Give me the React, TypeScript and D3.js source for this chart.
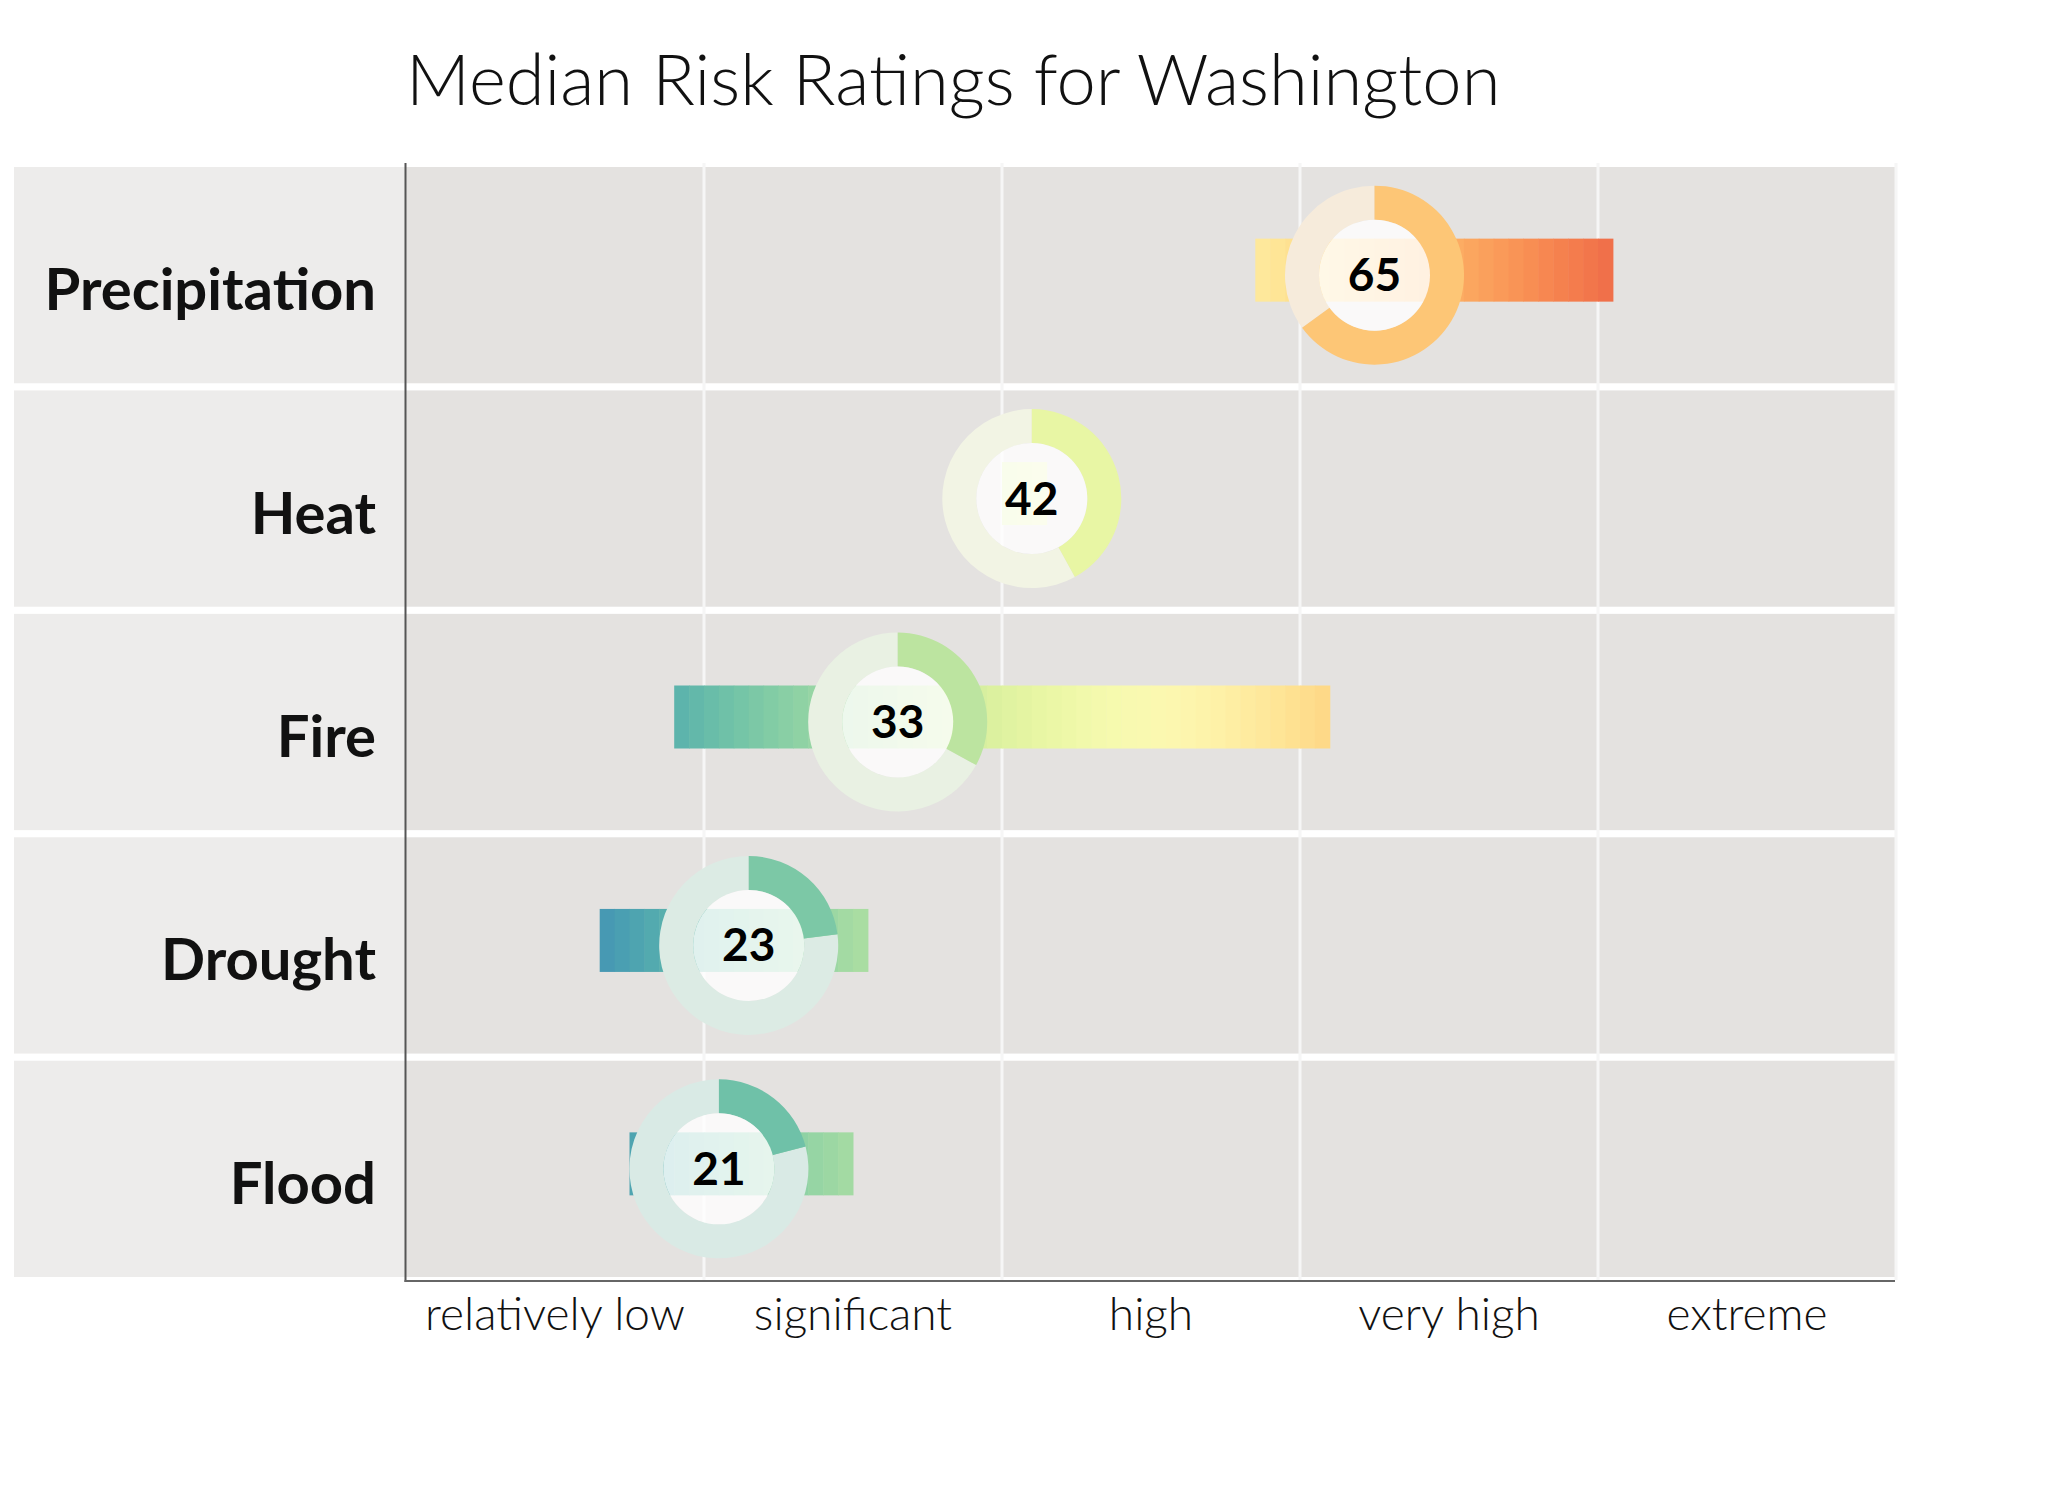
import React from 'react';
import * as d3 from 'd3';

// Median risk rating per hazard, plus the low/high range of ratings
const hazards = ['Precipitation', 'Heat', 'Fire', 'Drought', 'Flood'];
const medians = [65, 42, 33, 23, 21];
const rangeLow = [57, 40, 18, 13, 15];
const rangeHigh = [81, 43, 62, 31, 30];

const ratingLabels = ['relatively low', 'significant', 'high', 'very high', 'extreme'];
const ratingBreaks = [0, 20, 40, 60, 80, 100];

const W = 2047;
const H = 1489;
const FONT = 'Lato, "Noto Sans", sans-serif';

const riskColor = (v: number) => d3.interpolateSpectral(1 - v / 100);
const paleColor = (v: number) => d3.interpolateRgb('#f4f4f4', riskColor(v))(0.2);

const App: React.FC = () => {
  const x = d3.scaleLinear().domain([0, 100]).range([406, 1896]);
  const y = d3.scaleBand<string>().domain(hazards).range([167, 1277]).paddingInner(0.032);

  const rOuter = 89.5;
  const rInner = 55.5;
  const arc = d3.arc<any>().innerRadius(rInner).outerRadius(rOuter);

  return (
    <svg
      width={W}
      height={H}
      style={{position: 'absolute', left: 0, top: 0, background: '#fff'}}
      fontFamily={FONT}
    >
      <text x={406} y={105} fontSize={70.5} fontWeight={300} fill="#111">
        Median Risk Ratings for Washington
      </text>

      {/* row backgrounds */}
      {hazards.map((h) => (
        <g key={h}>
          <rect x={14} y={y(h)} width={x(0) - 14} height={y.bandwidth()} fill="#edeceb" />
          <rect x={x(0)} y={y(h)} width={x(100) - x(0)} height={y.bandwidth()} fill="#e4e2e0" />
        </g>
      ))}

      {/* grid lines at rating breaks */}
      {ratingBreaks.slice(1).map((b) => (
        <line key={b} x1={x(b)} x2={x(b)} y1={163} y2={1280} stroke="#f6f6f6" strokeWidth={3} />
      ))}

      {/* axes */}
      <line x1={x(0) - 0.5} x2={x(0) - 0.5} y1={163} y2={1282} stroke="#555" strokeWidth={2} />
      <line x1={x(0) - 1.5} x2={x(100) - 1} y1={1281} y2={1281} stroke="#666" strokeWidth={2} />

      {ratingLabels.map((l, i) => (
        <text
          key={l}
          x={x((ratingBreaks[i] + ratingBreaks[i + 1]) / 2)}
          y={1330}
          textAnchor="middle"
          fontSize={46}
          fontWeight={300}
          fill="#111"
        >
          {l}
        </text>
      ))}

      {hazards.map((h, i) => {
        const cy = (y(h) as number) + y.bandwidth() / 2;
        const cx = x(medians[i]);
        const stripes = d3.range(rangeLow[i], rangeHigh[i]);
        return (
          <g key={h}>
            <text x={376} y={cy + 35} textAnchor="end" fontSize={58} fontWeight={700} fill="#111">
              {h}
            </text>
            {stripes.map((v) => (
              <rect
                key={v}
                x={x(v)}
                y={cy - 36.5}
                width={x(v + 1) - x(v) + 0.5}
                height={63}
                fill={riskColor(v)}
              />
            ))}
            <g transform={`translate(${cx},${cy})`}>
              <path
                d={arc({startAngle: (medians[i] / 100) * 2 * Math.PI, endAngle: 2 * Math.PI}) as string}
                fill={paleColor(medians[i])}
              />
              <path
                d={arc({startAngle: 0, endAngle: (medians[i] / 100) * 2 * Math.PI}) as string}
                fill={riskColor(medians[i])}
              />
              <circle r={rInner} fill="#fff" fillOpacity={0.8} />
              <text y={16} textAnchor="middle" fontSize={46} fontWeight={700} fill="#000">
                {medians[i]}
              </text>
            </g>
          </g>
        );
      })}
    </svg>
  );
};

export default App;
